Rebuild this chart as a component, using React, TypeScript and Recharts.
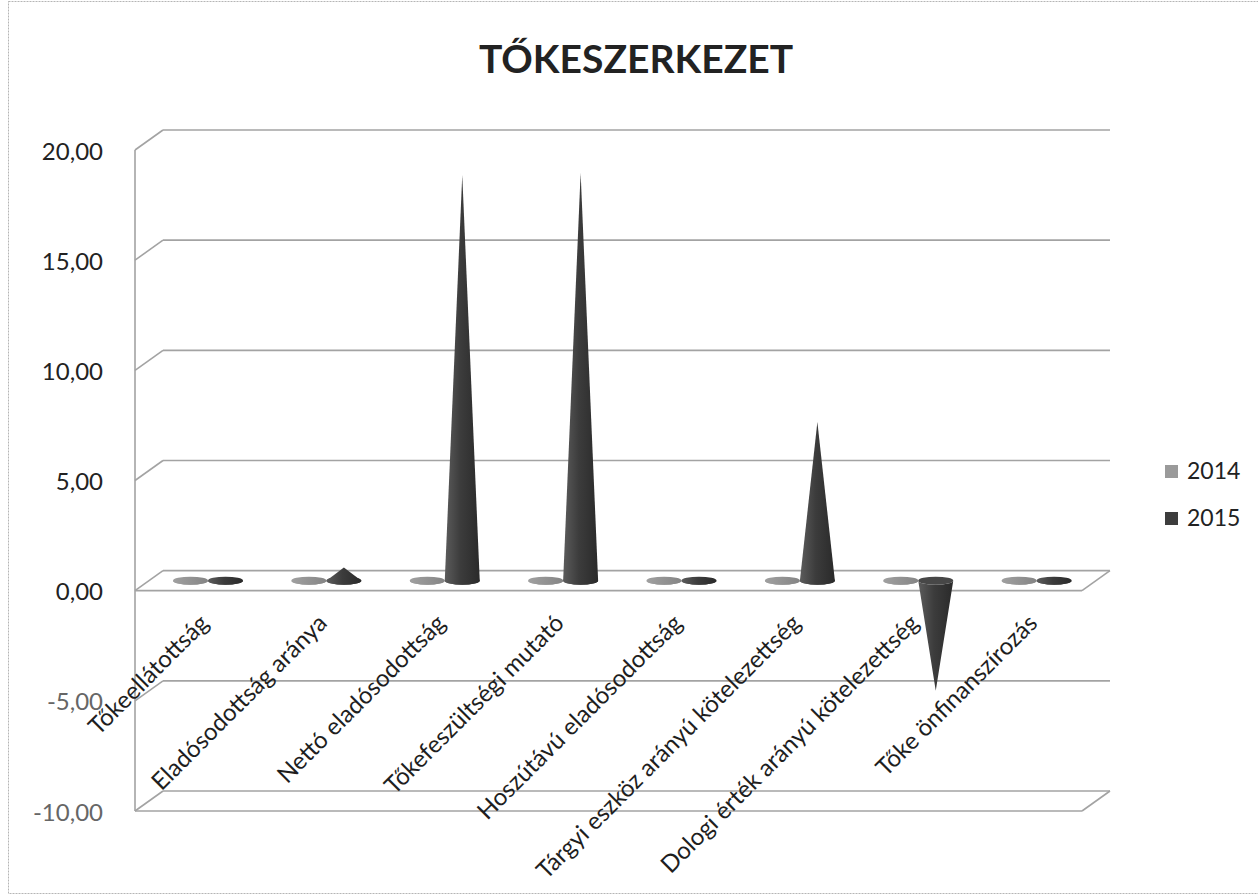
import { BarChart, Bar, XAxis, YAxis, CartesianGrid } from 'recharts';

const categories = [
    'Tőkeellátottság',
    'Eladósodottság aránya',
    'Nettó eladósodottság',
    'Tőkefeszültségi mutató',
    'Hoszútávú eladósodottság',
    'Tárgyi eszköz arányú kötelezettség',
    'Dologi érték arányú kötelezettség',
    'Tőke önfinanszírozás',
];
const values2014 = [0.05, 0.05, 0.05, 0.05, 0.05, 0.05, 0.05, 0.05];
const values2015 = [0.15, 0.6, 18.4, 18.5, 0.1, 7.2, -5.0, 0.1];
const yTicks = [-10, -5, 0, 5, 10, 15, 20];
const seriesNames = ['2014', '2015'];

const data = categories.map((name, i) => ({ name, y2014: values2014[i], y2015: values2015[i] }));

// chart geometry (middle plane of the 3D box)
const W = 1258;
const H = 895;
const PLOT_LEFT = 149;
const PLOT_TOP = 140;
const PLOT_BOTTOM = 801;
const DEPTH_X = 14;
const DEPTH_Y = 10;
const yOf = (v: number) => PLOT_TOP + ((20 - v) / 30) * (PLOT_BOTTOM - PLOT_TOP);
const FONT = 'Lato, "Open Sans", sans-serif';
const GRID = '#a3a3a3';

const gridLine = (p: any) => {
    const { x1, x2, y1 } = p;
    const y = y1;
    const isFloor = Math.abs(y - yOf(0)) < 1;
    const isBottom = Math.abs(y - yOf(-10)) < 1;
    return (
        <g key={`g-${y}`}>
            <line x1={x1 + DEPTH_X} x2={x2 + DEPTH_X} y1={y - DEPTH_Y} y2={y - DEPTH_Y} stroke={GRID} strokeWidth={1.6} />
            <line x1={x1 - DEPTH_X} x2={x1 + DEPTH_X} y1={y + DEPTH_Y} y2={y - DEPTH_Y} stroke={GRID} strokeWidth={1.6} />
            {(isFloor || isBottom) && (
                <>
                    <line x1={x1 - DEPTH_X} x2={x2 - DEPTH_X} y1={y + DEPTH_Y} y2={y + DEPTH_Y} stroke={GRID} strokeWidth={1.6} />
                    <line x1={x2 - DEPTH_X} x2={x2 + DEPTH_X} y1={y + DEPTH_Y} y2={y - DEPTH_Y} stroke={GRID} strokeWidth={1.6} />
                </>
            )}
            {isBottom && (
                <line x1={x1 - DEPTH_X} x2={x1 - DEPTH_X} y1={yOf(20) + DEPTH_Y} y2={y + DEPTH_Y} stroke={GRID} strokeWidth={1.6} />
            )}
        </g>
    );
};

const YTick = (p: any) => {
    const v = p.payload.value as number;
    return (
        <text x={PLOT_LEFT - 46} y={p.y + DEPTH_Y} textAnchor="end" dominantBaseline="central"
            fontFamily={FONT} fontSize={24} fill={v < 0 ? '#666' : '#222'}>
            {v.toFixed(2).replace('.', ',')}
        </text>
    );
};

const XTick = (p: any) => {
    const ax = p.x + 2;
    const ay = yOf(0) + 44;
    return (
        <text x={ax} y={ay} textAnchor="end" transform={`rotate(-45, ${ax}, ${ay})`}
            fontFamily={FONT} fontSize={24} fill="#1e1e1e">
            {p.payload.value}
        </text>
    );
};

const cone = (key: string, fill: string, top: string) => (p: any) => {
    const v = p.payload[key] as number;
    const a = Math.min(p.y, p.y + p.height);
    const b = Math.max(p.y, p.y + p.height);
    const x = p.x;
    const w = p.width;
    const cx = x + w / 2;
    const rx = w / 2;
    const ry = 4;
    if (v >= 0) {
        return (
            <g>
                <ellipse cx={cx} cy={b} rx={rx} ry={ry} fill={fill} />
                <path d={`M${x},${b} L${cx},${a} L${x + w},${b} A${rx},${ry} 0 0 1 ${x},${b} Z`} fill={fill} />
            </g>
        );
    }
    return (
        <g>
            <path d={`M${x},${a} A${rx},${ry} 0 0 0 ${x + w},${a} L${cx},${b} Z`} fill={fill} />
            <ellipse cx={cx} cy={a} rx={rx} ry={ry} fill={top} />
        </g>
    );
};

export default function App() {
    return (
        <div style={{ position: 'relative', width: W, height: H, background: '#fff' }}>
            <style>{'body{margin:0}'}</style>
            <BarChart
                width={W}
                height={H}
                data={data}
                margin={{ top: PLOT_TOP, right: W - 1096, left: 9, bottom: H - PLOT_BOTTOM - 30 }}
                barGap={0}
                barSize={35}
            >
                <defs>
                    <linearGradient id="g2015" x1="0" y1="0" x2="1" y2="0">
                        <stop offset="0%" stopColor="#5c5c5c" />
                        <stop offset="45%" stopColor="#3c3c3c" />
                        <stop offset="100%" stopColor="#2a2a2a" />
                    </linearGradient>
                    <linearGradient id="g2014" x1="0" y1="0" x2="1" y2="0">
                        <stop offset="0%" stopColor="#a0a0a0" />
                        <stop offset="100%" stopColor="#858585" />
                    </linearGradient>
                </defs>
                <CartesianGrid vertical={false} horizontal={gridLine} />
                <XAxis dataKey="name" axisLine={false} tickLine={false} tick={XTick} interval={0} height={30} />
                <YAxis domain={[-10, 20]} ticks={yTicks} width={140} axisLine={false} tickLine={false} tick={YTick} />
                <Bar dataKey="y2014" name={seriesNames[0]} fill="#8f8f8f" isAnimationActive={false}
                    shape={cone('y2014', 'url(#g2014)', '#9a9a9a')} />
                <Bar dataKey="y2015" name={seriesNames[1]} fill="#3c3c3c" isAnimationActive={false}
                    shape={cone('y2015', 'url(#g2015)', '#474747')} />
            </BarChart>
            <svg width={W} height={H} style={{ position: 'absolute', left: 0, top: 0, pointerEvents: 'none' }}>
                <rect x={8.5} y={1.5} width={W} height={H - 3} fill="none" stroke="#b5b5b5" strokeDasharray="2 1" />
                <text x={636} y={73} textAnchor="middle" fontFamily={FONT} fontWeight={700} fontSize={39} fill="#222">
                    TŐKESZERKEZET
                </text>
                <rect x={1165} y={465} width={13} height={13} fill="#9a9a9a" />
                <text x={1187} y={479} fontFamily={FONT} fontSize={23} fill="#222">{seriesNames[0]}</text>
                <rect x={1165} y={512} width={13} height={13} fill="#3d3d3d" />
                <text x={1187} y={526} fontFamily={FONT} fontSize={23} fill="#222">{seriesNames[1]}</text>
            </svg>
        </div>
    );
}
